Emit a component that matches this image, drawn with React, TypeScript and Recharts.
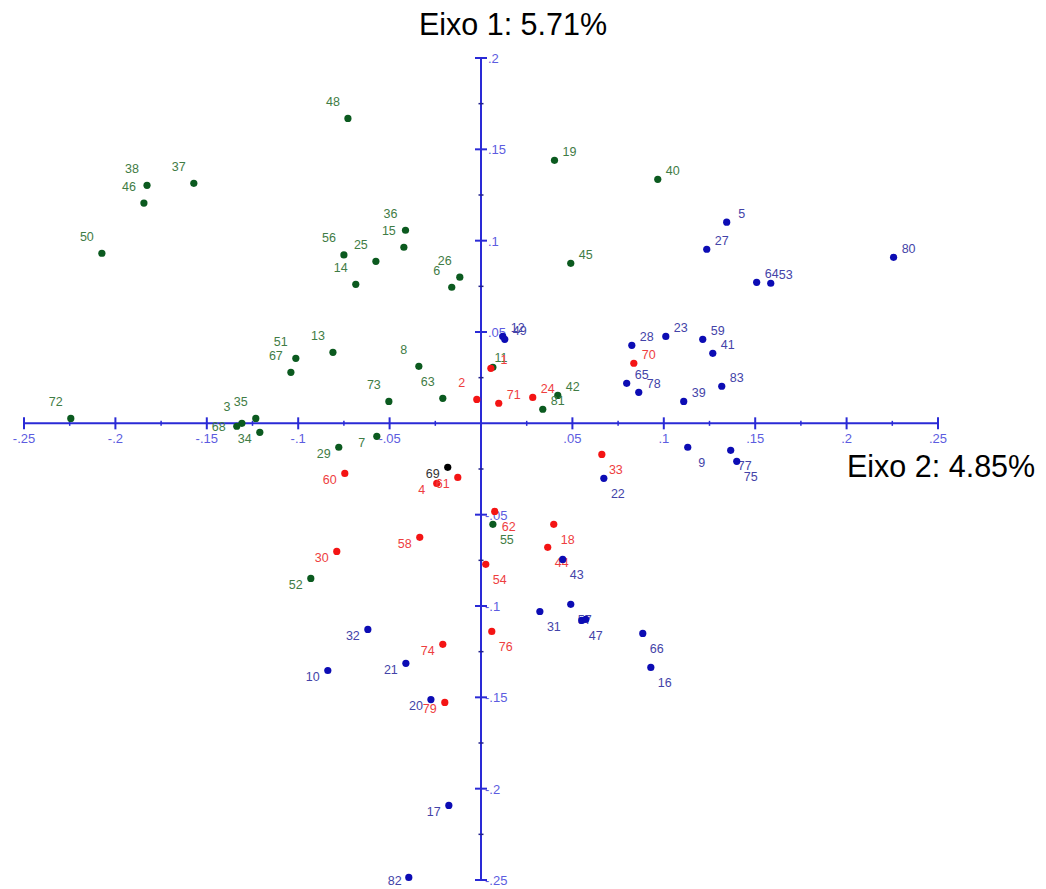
import { ScatterChart, Scatter, XAxis, YAxis, ReferenceLine } from "recharts";

// point scores (x = Eixo 2, y = Eixo 1)
const greenPoints = [
  { label: "48", x: -0.0728, y: 0.1669 }, { label: "38", x: -0.1827, y: 0.1303 },
  { label: "46", x: -0.1844, y: 0.1206 }, { label: "37", x: -0.1571, y: 0.1314 },
  { label: "50", x: -0.2074, y: 0.0931 }, { label: "36", x: -0.0413, y: 0.1057 },
  { label: "15", x: -0.0422, y: 0.0964 }, { label: "56", x: -0.075, y: 0.0922 },
  { label: "25", x: -0.0575, y: 0.0887 }, { label: "14", x: -0.0685, y: 0.0761 },
  { label: "26", x: -0.0116, y: 0.08 }, { label: "6", x: -0.016, y: 0.0745 },
  { label: "19", x: 0.0402, y: 0.144 }, { label: "40", x: 0.0967, y: 0.1336 },
  { label: "45", x: 0.0491, y: 0.0876 }, { label: "13", x: -0.081, y: 0.0389 },
  { label: "51", x: -0.1013, y: 0.0356 }, { label: "67", x: -0.104, y: 0.0279 },
  { label: "8", x: -0.034, y: 0.0312 }, { label: "73", x: -0.0504, y: 0.012 },
  { label: "63", x: -0.0209, y: 0.0137 }, { label: "7", x: -0.057, y: -0.0071 },
  { label: "29", x: -0.0778, y: -0.0131 }, { label: "11", x: 0.0065, y: 0.0307 },
  { label: "42", x: 0.042, y: 0.0153 }, { label: "81", x: 0.0338, y: 0.0077 },
  { label: "72", x: -0.2244, y: 0.0027 }, { label: "35", x: -0.1232, y: 0.0027 },
  { label: "3", x: -0.1308, y: 0.0 }, { label: "68", x: -0.1336, y: -0.0016 },
  { label: "34", x: -0.121, y: -0.0049 }, { label: "55", x: 0.0065, y: -0.0553 },
  { label: "52", x: -0.0931, y: -0.0849 },
];

const redPoints = [
  { label: "1", x: 0.0054, y: 0.0301 }, { label: "2", x: -0.0023, y: 0.0131 },
  { label: "71", x: 0.0097, y: 0.011 }, { label: "24", x: 0.0283, y: 0.0142 },
  { label: "70", x: 0.0836, y: 0.0329 }, { label: "33", x: 0.0661, y: -0.017 },
  { label: "60", x: -0.0745, y: -0.0274 }, { label: "4", x: -0.0242, y: -0.0329 },
  { label: "61", x: -0.0127, y: -0.0296 }, { label: "62", x: 0.0075, y: -0.0482 },
  { label: "58", x: -0.0335, y: -0.0624 }, { label: "30", x: -0.0789, y: -0.0701 },
  { label: "54", x: 0.0026, y: -0.0772 }, { label: "18", x: 0.0398, y: -0.0553 },
  { label: "44", x: 0.0365, y: -0.0679 }, { label: "76", x: 0.0059, y: -0.1139 },
  { label: "74", x: -0.0209, y: -0.121 }, { label: "79", x: -0.0198, y: -0.1528 },
];

const blackPoints = [{ label: "69", x: -0.0182, y: -0.0241 }];

const bluePoints = [
  { label: "5", x: 0.1344, y: 0.1101 }, { label: "27", x: 0.1235, y: 0.0953 },
  { label: "64", x: 0.1508, y: 0.0772 }, { label: "53", x: 0.1585, y: 0.0767 },
  { label: "80", x: 0.2257, y: 0.0909 }, { label: "12", x: 0.0119, y: 0.0476 },
  { label: "49", x: 0.013, y: 0.046 }, { label: "28", x: 0.0825, y: 0.0427 },
  { label: "23", x: 0.1011, y: 0.0476 }, { label: "59", x: 0.1213, y: 0.046 },
  { label: "41", x: 0.1268, y: 0.0383 }, { label: "65", x: 0.0797, y: 0.0219 },
  { label: "78", x: 0.0863, y: 0.017 }, { label: "83", x: 0.1317, y: 0.0203 },
  { label: "39", x: 0.1109, y: 0.012 }, { label: "9", x: 0.1131, y: -0.0131 },
  { label: "77", x: 0.1366, y: -0.0148 }, { label: "75", x: 0.1399, y: -0.0208 },
  { label: "22", x: 0.0672, y: -0.0301 }, { label: "43", x: 0.0447, y: -0.0745 },
  { label: "57", x: 0.0491, y: -0.0991 }, { label: "47", x: 0.0551, y: -0.1079 },
  { label: "", x: 0.0573, y: -0.1073 }, { label: "31", x: 0.0322, y: -0.103 },
  { label: "66", x: 0.0885, y: -0.115 }, { label: "16", x: 0.0929, y: -0.1336 },
  { label: "32", x: -0.0619, y: -0.1128 }, { label: "10", x: -0.0838, y: -0.1353 },
  { label: "21", x: -0.0411, y: -0.1314 }, { label: "20", x: -0.0274, y: -0.1512 },
  { label: "17", x: -0.0176, y: -0.2092 }, { label: "82", x: -0.0395, y: -0.2486 },
];

// axis ticks (axes cross at the origin)
const xMajorTicks = [-0.25, -0.2, -0.15, -0.1, -0.05, 0.05, 0.1, 0.15, 0.2, 0.25];
const xMajorLabels = ["-.25", "-.2", "-.15", "-.1", "-.05", ".05", ".1", ".15", ".2", ".25"];
const xMinorTicks = [-0.225, -0.175, -0.125, -0.075, -0.025, 0.025, 0.075, 0.125, 0.175, 0.225];
const yMajorTicks = [0.2, 0.15, 0.1, 0.05, -0.05, -0.1, -0.15, -0.2, -0.25];
const yMajorLabels = [".2", ".15", ".1", ".05", "-.05", "-.1", "-.15", "-.2", "-.25"];
const yMinorTicks = [0.175, 0.125, 0.075, 0.025, -0.025, -0.075, -0.125, -0.175, -0.225];

// where each point's number sits relative to its dot
const labelSide: Record<string, string> = {};
"48 38 46 37 50 36 15 56 25 14 26 6 13 51 67 8 73 63 2 72 35 3".split(" ").forEach((k) => (labelSide[k] = "nw"));
"19 40 5 27 45 80 64 53 28 23 59 41 70 65 78 83 39 24 42 81 71 12 49".split(" ").forEach((k) => (labelSide[k] = "ne"));
"9 77 75 33 22 62 55 18 44 43 57 47 31 66 16 54 76".split(" ").forEach((k) => (labelSide[k] = "se"));
"60 4 61 58 30 52 32 74 10 21 20 79 17 69 29 7 34".split(" ").forEach((k) => (labelSide[k] = "w"));
labelSide["11"] = "n"; labelSide["1"] = "n1"; labelSide["68"] = "wl"; labelSide["82"] = "wb";
const OFFSETS: Record<string, [number, number]> = {
  nw: [-15, -17], ne: [15, -9], se: [14, 15], w: [-15, 6],
  n: [8, -10], n1: [13, -9], wl: [-18, 0], wb: [-14, 3],
};

const AXIS = "#2a2ad6";
const TICK_TEXT = "#5c5ce0";
const FONT = "'Liberation Sans', Arial, sans-serif";

const makeDot = (fill: string, textFill: string) => (p: any) => {
  const { cx, cy, payload } = p;
  const [dx, dy] = OFFSETS[labelSide[payload.label] || "ne"];
  return (
    <g>
      <circle cx={cx} cy={cy} r={3.6} fill={fill} />
      {payload.label && (
        <text x={cx + dx} y={cy + dy + 4.5} textAnchor="middle" fontSize={12.5} fill={textFill} fontFamily={FONT}>
          {payload.label}
        </text>
      )}
    </g>
  );
};

const xMajorData = xMajorTicks.map((v, i) => ({ x: v, y: 0, label: xMajorLabels[i] }));
const xMinorData = xMinorTicks.map((v) => ({ x: v, y: 0 }));
const yMajorData = yMajorTicks.map((v, i) => ({ x: 0, y: v, label: yMajorLabels[i] }));
const yMinorData = yMinorTicks.map((v) => ({ x: 0, y: v }));

export default function App() {
  return (
    <div style={{ position: "absolute", left: 0, top: 0, width: 1046, height: 889, background: "#fff" }}>
      <ScatterChart width={1046} height={889} margin={{ top: 58, right: 108, bottom: 9, left: 24 }}>
        <XAxis type="number" dataKey="x" domain={[-0.25, 0.25]} hide />
        <YAxis type="number" dataKey="y" domain={[-0.25, 0.2]} hide />
        <ReferenceLine segment={[{ x: -0.25, y: 0 }, { x: 0.25, y: 0 }]} stroke={AXIS} strokeWidth={2} ifOverflow="visible" />
        <ReferenceLine segment={[{ x: 0, y: -0.25 }, { x: 0, y: 0.2 }]} stroke={AXIS} strokeWidth={2} ifOverflow="visible" />
        <Scatter data={xMinorData} isAnimationActive={false}
          shape={(p: any) => <line x1={p.cx} x2={p.cx} y1={p.cy - 2.5} y2={p.cy + 2.5} stroke={AXIS} strokeWidth={1.5} />} />
        <Scatter data={xMajorData} isAnimationActive={false}
          shape={(p: any) => (
            <g>
              <line x1={p.cx} x2={p.cx} y1={p.cy - 6} y2={p.cy + 6} stroke={AXIS} strokeWidth={2} />
              <text x={p.cx} y={p.cy + 20} textAnchor="middle" fontSize={13} fill={TICK_TEXT} fontFamily={FONT}>{p.payload.label}</text>
            </g>
          )} />
        <Scatter data={yMinorData} isAnimationActive={false}
          shape={(p: any) => <line x1={p.cx - 2.5} x2={p.cx + 2.5} y1={p.cy} y2={p.cy} stroke="#22228a" strokeWidth={1.5} />} />
        <Scatter data={yMajorData} isAnimationActive={false}
          shape={(p: any) => (
            <g>
              <line x1={p.cx - 6} x2={p.cx + 6} y1={p.cy} y2={p.cy} stroke={AXIS} strokeWidth={2} />
              <text x={p.cx + (p.payload.label.startsWith("-") ? 4 : 7)} y={p.cy + 5} fontSize={13} fill={TICK_TEXT} fontFamily={FONT}>{p.payload.label}</text>
            </g>
          )} />
        <Scatter data={greenPoints} isAnimationActive={false} shape={makeDot("#0b5a1f", "#3f7c45")} />
        <Scatter data={redPoints} isAnimationActive={false} shape={makeDot("#f41414", "#ee3e3e")} />
        <Scatter data={blackPoints} isAnimationActive={false} shape={makeDot("#000000", "#333333")} />
        <Scatter data={bluePoints} isAnimationActive={false} shape={makeDot("#0c0cb4", "#4343a8")} />
      </ScatterChart>
      <svg width={1046} height={889} style={{ position: "absolute", left: 0, top: 0, pointerEvents: "none" }}>
        <text x={513} y={35} textAnchor="middle" fontSize={30.5} fontFamily={FONT} fill="#000">Eixo 1: 5.71%</text>
        <text x={847} y={477} fontSize={30.5} fontFamily={FONT} fill="#000">Eixo 2: 4.85%</text>
      </svg>
    </div>
  );
}
